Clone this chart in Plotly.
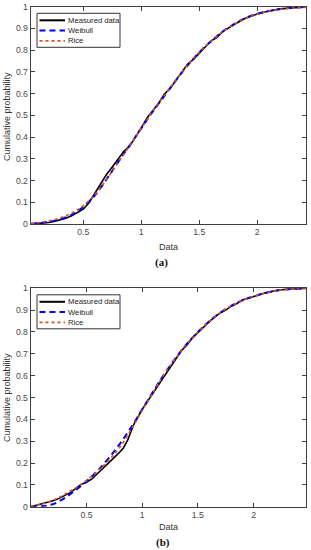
import plotly.graph_objects as go

# ---- panel (a) data ----
xa_meas = [0.05,0.1,0.15,0.2,0.25,0.3,0.35,0.4,0.45,0.5,0.55,0.6,0.65,0.7,0.75,0.8,0.85,0.9,0.95,1.0,
           1.05,1.1,1.15,1.2,1.25,1.3,1.35,1.4,1.45,1.5,1.55,1.6,1.65,1.7,1.8,1.9,2.0,2.1,2.2,2.3,2.42]
ya_meas = [0.0,0.002,0.004,0.007,0.012,0.018,0.026,0.038,0.052,0.068,0.098,0.142,0.19,0.228,0.262,0.298,0.335,0.358,0.398,0.442,
           0.488,0.522,0.556,0.598,0.624,0.662,0.702,0.736,0.758,0.786,0.81,0.842,0.858,0.884,0.918,0.948,0.966,0.98,0.99,0.996,1.0]
xa_fit = [0.05,0.1,0.2,0.3,0.4,0.5,0.6,0.7,0.8,0.9,1.0,1.1,1.2,1.3,1.4,1.5,1.6,1.7,1.8,1.9,2.0,2.1,2.2,2.3,2.42]
ya_weib = [0.001,0.003,0.01,0.022,0.042,0.078,0.132,0.205,0.285,0.362,0.44,0.518,0.59,0.662,0.73,0.79,0.84,0.885,0.92,0.948,0.967,0.98,0.989,0.995,0.998]
ya_rice = [0.002,0.005,0.014,0.028,0.05,0.085,0.135,0.205,0.282,0.36,0.44,0.52,0.592,0.664,0.732,0.79,0.84,0.884,0.918,0.946,0.965,0.979,0.988,0.994,0.997]

# ---- panel (b) data ----
xb_meas = [0.0,0.05,0.1,0.15,0.2,0.25,0.3,0.35,0.4,0.45,0.5,0.55,0.6,0.65,0.7,0.75,0.79,0.83,0.87,0.9,0.93,0.96,1.0,
           1.05,1.1,1.15,1.2,1.25,1.3,1.35,1.4,1.45,1.5,1.55,1.6,1.65,1.7,1.75,1.8,1.85,1.9,2.0,2.1,2.2,2.3,2.47]
yb_meas = [0.0,0.006,0.013,0.02,0.027,0.037,0.05,0.063,0.082,0.101,0.112,0.127,0.152,0.176,0.203,0.226,0.245,0.268,0.305,0.345,0.382,0.408,0.446,
           0.484,0.522,0.563,0.602,0.641,0.674,0.713,0.739,0.772,0.797,0.824,0.846,0.868,0.887,0.9,0.918,0.93,0.946,0.962,0.978,0.99,0.996,1.0]
xb_fit = [0.0,0.1,0.2,0.3,0.4,0.5,0.6,0.7,0.8,0.9,1.0,1.1,1.2,1.3,1.4,1.5,1.6,1.7,1.8,1.9,2.0,2.1,2.2,2.3,2.47]
yb_weib = [0.0,0.002,0.012,0.038,0.075,0.115,0.165,0.222,0.288,0.362,0.445,0.528,0.608,0.68,0.745,0.8,0.848,0.888,0.92,0.945,0.963,0.978,0.989,0.995,0.999]
yb_rice = [0.002,0.012,0.03,0.055,0.085,0.12,0.163,0.212,0.272,0.352,0.44,0.525,0.608,0.68,0.745,0.8,0.848,0.888,0.92,0.945,0.963,0.978,0.989,0.995,0.999]

names = ["Measured data", "Weibull", "Rice"]
x_ticks = [0.5, 1, 1.5, 2]
x_ticktext = ["0.5", "1", "1.5", "2"]
y_ticks = [0, 0.1, 0.2, 0.3, 0.4, 0.5, 0.6, 0.7, 0.8, 0.9, 1]
y_ticktext = ["0", "0.1", "0.2", "0.3", "0.4", "0.5", "0.6", "0.7", "0.8", "0.9", "1"]

W, H = 311, 550
BLACK = "#000000"
BLUE = "#0000ee"
RICE = "#d95319"
AX = "#404040"
SANS = "Liberation Sans, Arial"

styles = [dict(color=BLACK, width=1.6),
          dict(color=BLUE, width=2, dash="6px,4px"),
          dict(color=RICE, width=1.6, dash="dot")]

fig = go.Figure()

def add_panel(xm, ym, xf, yw, yr, xa, ya):
    fig.add_trace(go.Scatter(x=xm, y=ym, mode="lines", name=names[0], xaxis=xa, yaxis=ya,
                             line=styles[0]))
    fig.add_trace(go.Scatter(x=xf, y=yw, mode="lines", name=names[1], xaxis=xa, yaxis=ya,
                             line=dict(shape="spline", **styles[1])))
    fig.add_trace(go.Scatter(x=xf, y=yr, mode="lines", name=names[2], xaxis=xa, yaxis=ya,
                             line=dict(shape="spline", **styles[2])))

add_panel(xa_meas, ya_meas, xa_fit, ya_weib, ya_rice, "x", "y")
add_panel(xb_meas, yb_meas, xb_fit, yb_weib, yb_rice, "x2", "y2")

def px_x(p):
    return p / W

def px_y(p):
    return 1 - p / H

axis_common = dict(showline=True, mirror="ticks", linecolor=AX, linewidth=1,
                   ticks="inside", ticklen=4, tickcolor=AX, showgrid=False, zeroline=False,
                   tickfont=dict(family=SANS, size=8.7, color="#4a4a4a"),
                   automargin=False)

fig.update_layout(
    width=W, height=H, margin=dict(l=0, r=0, t=0, b=0, pad=0),
    paper_bgcolor="white", plot_bgcolor="white", showlegend=False,
    xaxis=dict(domain=[px_x(30.7), px_x(306)], range=[0.047, 2.42], tickvals=x_ticks,
               ticktext=x_ticktext, anchor="y", **axis_common),
    yaxis=dict(domain=[px_y(224), px_y(6.7)], range=[0, 1], tickvals=y_ticks,
               ticktext=y_ticktext, anchor="x", **axis_common),
    xaxis2=dict(domain=[px_x(30.7), px_x(306)], range=[0, 2.47], tickvals=x_ticks,
                ticktext=x_ticktext, anchor="y2", **axis_common),
    yaxis2=dict(domain=[px_y(506.7), px_y(288.3)], range=[0, 1], tickvals=y_ticks,
                ticktext=y_ticktext, anchor="x2", **axis_common),
)

# ---- hand-drawn MATLAB-style legends (decoration only) ----
def add_legend(top):
    fig.add_shape(type="rect", xref="paper", yref="paper", layer="above",
                  x0=px_x(37), x1=px_x(120), y0=px_y(top + 34), y1=px_y(top),
                  line=dict(color="#333333", width=1), fillcolor="white")
    for i, name in enumerate(names):
        yc = top + 7 + 10.3 * i
        st = dict(styles[i])
        st["width"] = 2 if i < 2 else 1.8
        fig.add_shape(type="line", xref="paper", yref="paper", layer="above",
                      x0=px_x(39.5), x1=px_x(65), y0=px_y(yc), y1=px_y(yc), line=st)
        fig.add_annotation(xref="paper", yref="paper", x=px_x(66.5), y=px_y(yc), text=name,
                           showarrow=False, xanchor="left", yanchor="middle", borderpad=0,
                           font=dict(family=SANS, size=7.7, color="#222222"))

add_legend(13.3)
add_legend(294.8)

title_font = dict(family=SANS, size=9, color="#333333")
label_font = dict(family="Liberation Serif, Times New Roman", size=11, color="#111111")
annots = [
    dict(text="Data", x=px_x(168), y=px_y(246.5), font=title_font),
    dict(text="<b>(a)</b>", x=px_x(161), y=px_y(262), font=label_font),
    dict(text="Cumulative probability", x=px_x(7), y=px_y(117), textangle=-90, font=title_font),
    dict(text="Data", x=px_x(168), y=px_y(527), font=title_font),
    dict(text="<b>(b)</b>", x=px_x(163), y=px_y(542.5), font=label_font),
    dict(text="Cumulative probability", x=px_x(7), y=px_y(398), textangle=-90, font=title_font),
]
for a in annots:
    fig.add_annotation(xref="paper", yref="paper", showarrow=False, xanchor="center",
                       yanchor="middle", borderpad=0, **a)

fig.write_html("out.html", config={"displayModeBar": False, "staticPlot": True},
               post_script="document.body.style.margin='0';document.body.style.overflow='hidden';")
